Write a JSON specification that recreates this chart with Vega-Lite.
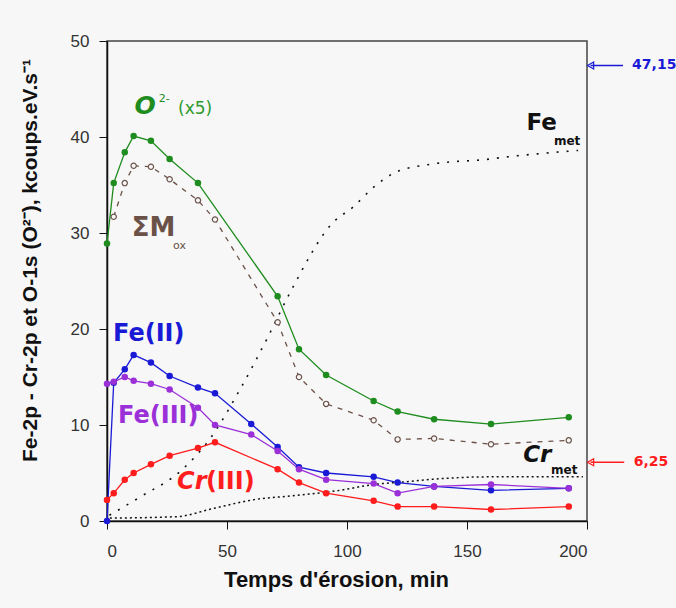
{
  "$schema": "https://vega.github.io/schema/vega-lite/v6.json",
  "width": 480,
  "height": 480,
  "autosize": {"type": "none"},
  "padding": {"left": 107, "top": 41, "right": 89, "bottom": 87},
  "background": "#f7f7f7",
  "config": {"font": "Liberation Sans", "view": {"stroke": "#444", "strokeWidth": 1.5}},
  "datasets": {
    "series": [
      {"s": "O", "t": 0, "v": 28.9}, {"s": "O", "t": 2.8, "v": 35.2}, {"s": "O", "t": 7.4, "v": 38.4}, {"s": "O", "t": 11.1, "v": 40.1}, {"s": "O", "t": 18.3, "v": 39.6}, {"s": "O", "t": 26.1, "v": 37.7}, {"s": "O", "t": 37.9, "v": 35.2}, {"s": "O", "t": 71.1, "v": 23.4}, {"s": "O", "t": 80, "v": 17.9}, {"s": "O", "t": 91.3, "v": 15.2}, {"s": "O", "t": 111.1, "v": 12.5}, {"s": "O", "t": 121.1, "v": 11.4}, {"s": "O", "t": 136.3, "v": 10.6}, {"s": "O", "t": 160, "v": 10.1}, {"s": "O", "t": 192.4, "v": 10.8},
      {"s": "FeII", "t": 0, "v": 0}, {"s": "FeII", "t": 2.8, "v": 14.4}, {"s": "FeII", "t": 7.4, "v": 15.8}, {"s": "FeII", "t": 11.1, "v": 17.3}, {"s": "FeII", "t": 18.3, "v": 16.5}, {"s": "FeII", "t": 26.1, "v": 15.1}, {"s": "FeII", "t": 37.9, "v": 13.9}, {"s": "FeII", "t": 45, "v": 13.3}, {"s": "FeII", "t": 60.1, "v": 10.1}, {"s": "FeII", "t": 71.1, "v": 7.7}, {"s": "FeII", "t": 80, "v": 5.6}, {"s": "FeII", "t": 91.3, "v": 5.0}, {"s": "FeII", "t": 111.1, "v": 4.6}, {"s": "FeII", "t": 121.1, "v": 4.0}, {"s": "FeII", "t": 136.3, "v": 3.6}, {"s": "FeII", "t": 160, "v": 3.2}, {"s": "FeII", "t": 192.4, "v": 3.4},
      {"s": "FeIII", "t": 0, "v": 14.3}, {"s": "FeIII", "t": 2.8, "v": 14.5}, {"s": "FeIII", "t": 7.4, "v": 15.0}, {"s": "FeIII", "t": 11.1, "v": 14.6}, {"s": "FeIII", "t": 18.3, "v": 14.3}, {"s": "FeIII", "t": 26.1, "v": 13.7}, {"s": "FeIII", "t": 37.9, "v": 11.8}, {"s": "FeIII", "t": 45, "v": 10.0}, {"s": "FeIII", "t": 60.1, "v": 9.0}, {"s": "FeIII", "t": 71.1, "v": 7.3}, {"s": "FeIII", "t": 80, "v": 5.4}, {"s": "FeIII", "t": 91.3, "v": 4.3}, {"s": "FeIII", "t": 111.1, "v": 3.9}, {"s": "FeIII", "t": 121.1, "v": 2.9}, {"s": "FeIII", "t": 136.3, "v": 3.6}, {"s": "FeIII", "t": 160, "v": 3.8}, {"s": "FeIII", "t": 192.4, "v": 3.4},
      {"s": "CrIII", "t": 0, "v": 2.2}, {"s": "CrIII", "t": 2.8, "v": 2.9}, {"s": "CrIII", "t": 7.4, "v": 4.3}, {"s": "CrIII", "t": 11.1, "v": 5.0}, {"s": "CrIII", "t": 18.3, "v": 5.9}, {"s": "CrIII", "t": 26.1, "v": 6.8}, {"s": "CrIII", "t": 37.9, "v": 7.6}, {"s": "CrIII", "t": 45, "v": 8.2}, {"s": "CrIII", "t": 71.1, "v": 5.4}, {"s": "CrIII", "t": 80, "v": 4.0}, {"s": "CrIII", "t": 91.3, "v": 2.9}, {"s": "CrIII", "t": 111.1, "v": 2.1}, {"s": "CrIII", "t": 121.1, "v": 1.5}, {"s": "CrIII", "t": 136.3, "v": 1.5}, {"s": "CrIII", "t": 160, "v": 1.2}, {"s": "CrIII", "t": 192.4, "v": 1.5}
    ],
    "mox": [
      {"t": 2.8, "v": 31.7}, {"t": 7.4, "v": 35.2}, {"t": 11.1, "v": 37.0}, {"t": 18.3, "v": 36.9}, {"t": 26.1, "v": 35.6}, {"t": 37.9, "v": 33.4}, {"t": 45, "v": 31.4}, {"t": 71.1, "v": 20.7}, {"t": 80, "v": 15.0}, {"t": 91.3, "v": 12.2}, {"t": 111.1, "v": 10.5}, {"t": 121.1, "v": 8.5}, {"t": 136.3, "v": 8.6}, {"t": 160, "v": 8.0}, {"t": 192.4, "v": 8.4}
    ],
    "femet": [
      {"t": 1, "v": 0.6}, {"t": 13.8, "v": 2.5}, {"t": 31.1, "v": 5.3}, {"t": 43.6, "v": 8.8}, {"t": 55.4, "v": 13.7}, {"t": 66.5, "v": 18.9}, {"t": 76.3, "v": 23.8}, {"t": 94.2, "v": 31.1}, {"t": 102.5, "v": 32.7}, {"t": 110.8, "v": 34.7}, {"t": 120, "v": 36.3}, {"t": 133.2, "v": 37.1}, {"t": 142.9, "v": 37.4}, {"t": 155.4, "v": 37.6}, {"t": 169.2, "v": 38.0}, {"t": 181.7, "v": 38.3}, {"t": 196.3, "v": 38.6}
    ],
    "crmet": [
      {"t": 1.2, "v": 0.3}, {"t": 29, "v": 0.45}, {"t": 44.2, "v": 1.3}, {"t": 60.8, "v": 2.2}, {"t": 80.4, "v": 2.7}, {"t": 97.1, "v": 3.2}, {"t": 111, "v": 3.8}, {"t": 124.9, "v": 4.1}, {"t": 135.8, "v": 4.35}, {"t": 159.6, "v": 4.6}, {"t": 198.3, "v": 4.6}
    ],
    "labels": [
      {"id": "O", "t": 11.5, "v": 43.2, "text": "O"},
      {"id": "Osup", "t": 21.6, "v": 44.0, "text": "2-"},
      {"id": "x5", "t": 29.6, "v": 42.9, "text": "(x5)"},
      {"id": "M", "t": 10.3, "v": 30.5, "text": "ΣM"},
      {"id": "ox", "t": 27.5, "v": 28.6, "text": "ox"},
      {"id": "Fe", "t": 174.8, "v": 41.5, "text": "Fe"},
      {"id": "Femet", "t": 186.2, "v": 39.6, "text": "met"},
      {"id": "Cr", "t": 173.4, "v": 6.9, "text": "Cr"},
      {"id": "Crmet", "t": 185, "v": 5.3, "text": "met"},
      {"id": "FeII", "t": 2.5, "v": 19.5, "text": "Fe(II)"},
      {"id": "FeIII", "t": 4.6, "v": 10.9, "text": "Fe(III)"},
      {"id": "CrIIIa", "t": 29.2, "v": 4.1, "text": "Cr"},
      {"id": "CrIIIb", "t": 41.2, "v": 4.1, "text": "(III)"}
    ],
    "arrows": [
      {"id": "fe", "t0": 201.5, "t1": 215, "tl": 218.8, "v": 47.45, "text": "47,15"},
      {"id": "cr", "t0": 201.5, "t1": 215.5, "tl": 219.5, "v": 6.12, "text": "6,25"}
    ]
  },
  "layer": [
    {
      "data": {"name": "femet"},
      "mark": {"type": "line", "color": "#111", "strokeWidth": 1.6, "strokeDash": [2, 8], "interpolate": "monotone"},
      "encoding": {
        "x": {"field": "t", "type": "quantitative", "scale": {"domain": [0, 200], "nice": false},
          "axis": {"values": [0, 50, 100, 150, 200], "title": "Temps d'érosion, min", "titleFontSize": 22, "titleFontWeight": "bold", "titleColor": "#111", "titleX": 229, "titleY": 58, "titleBaseline": "middle", "titleAlign": "center", "labelFontSize": 17, "labelColor": "#333", "labelPadding": 14, "tickSize": 8, "tickColor": "#111", "domainColor": "#111", "domainWidth": 1.5, "grid": false}},
        "y": {"field": "v", "type": "quantitative", "scale": {"domain": [0, 50], "nice": false},
          "axis": {"values": [0, 10, 20, 30, 40, 50], "title": "Fe-2p - Cr-2p et O-1s (O²⁻), kcoups.eV.s⁻¹", "titleFontSize": 21, "titleFontWeight": "bold", "titleColor": "#111", "titleAngle": -90, "titleX": -77, "titleY": 219, "titleBaseline": "middle", "titleAlign": "center", "labelFontSize": 17, "labelColor": "#333", "labelPadding": 10, "tickSize": 8, "tickColor": "#111", "domainColor": "#111", "domainWidth": 1.5, "grid": false}}
      }
    },
    {
      "data": {"name": "crmet"},
      "mark": {"type": "line", "color": "#111", "strokeWidth": 1.5, "strokeDash": [2, 3], "interpolate": "monotone"},
      "encoding": {"x": {"field": "t", "type": "quantitative"}, "y": {"field": "v", "type": "quantitative"}}
    },
    {
      "data": {"name": "mox"},
      "mark": {"type": "line", "color": "#6b5249", "strokeWidth": 1.3, "strokeDash": [5, 6]},
      "encoding": {"x": {"field": "t", "type": "quantitative"}, "y": {"field": "v", "type": "quantitative"}}
    },
    {
      "data": {"name": "mox"},
      "mark": {"type": "point", "shape": "circle", "size": 28, "stroke": "#6b5249", "fill": "#f7f7f7", "filled": false, "strokeWidth": 1.2, "opacity": 1},
      "encoding": {"x": {"field": "t", "type": "quantitative"}, "y": {"field": "v", "type": "quantitative"}}
    },
    {
      "data": {"name": "series"},
      "mark": {"type": "line", "strokeWidth": 1.3},
      "encoding": {
        "x": {"field": "t", "type": "quantitative"},
        "y": {"field": "v", "type": "quantitative"},
        "color": {"field": "s", "type": "nominal", "scale": {"domain": ["O", "FeII", "FeIII", "CrIII"], "range": ["#1e8c1e", "#1a1ad6", "#9b30d8", "#ff1c1c"]}, "legend": null}
      }
    },
    {
      "data": {"name": "series"},
      "mark": {"type": "circle", "size": 42, "opacity": 1},
      "encoding": {
        "x": {"field": "t", "type": "quantitative"},
        "y": {"field": "v", "type": "quantitative"},
        "color": {"field": "s", "type": "nominal", "scale": {"domain": ["O", "FeII", "FeIII", "CrIII"], "range": ["#1e8c1e", "#1a1ad6", "#9b30d8", "#ff1c1c"]}, "legend": null}
      }
    },
    {
      "data": {"name": "labels"},
      "transform": [{"filter": "datum.id == 'O'"}],
      "mark": {"type": "text", "font": "DejaVu Sans", "fontSize": 25, "fontWeight": "bold", "fontStyle": "italic", "color": "#1e8c1e", "align": "left", "baseline": "middle"},
      "encoding": {"x": {"field": "t", "type": "quantitative"}, "y": {"field": "v", "type": "quantitative"}, "text": {"field": "text"}}
    },
    {
      "data": {"name": "labels"},
      "transform": [{"filter": "datum.id == 'Osup'"}],
      "mark": {"type": "text", "font": "DejaVu Sans", "fontSize": 11, "color": "#1e8c1e", "align": "left", "baseline": "middle"},
      "encoding": {"x": {"field": "t", "type": "quantitative"}, "y": {"field": "v", "type": "quantitative"}, "text": {"field": "text"}}
    },
    {
      "data": {"name": "labels"},
      "transform": [{"filter": "datum.id == 'x5'"}],
      "mark": {"type": "text", "font": "DejaVu Sans", "fontSize": 17, "color": "#2e9a2e", "align": "left", "baseline": "middle"},
      "encoding": {"x": {"field": "t", "type": "quantitative"}, "y": {"field": "v", "type": "quantitative"}, "text": {"field": "text"}}
    },
    {
      "data": {"name": "labels"},
      "transform": [{"filter": "datum.id == 'M'"}],
      "mark": {"type": "text", "font": "DejaVu Sans", "fontSize": 26, "fontWeight": "bold", "color": "#6b5249", "align": "left", "baseline": "middle"},
      "encoding": {"x": {"field": "t", "type": "quantitative"}, "y": {"field": "v", "type": "quantitative"}, "text": {"field": "text"}}
    },
    {
      "data": {"name": "labels"},
      "transform": [{"filter": "datum.id == 'ox'"}],
      "mark": {"type": "text", "font": "DejaVu Sans", "fontSize": 11, "color": "#6b5249", "align": "left", "baseline": "middle"},
      "encoding": {"x": {"field": "t", "type": "quantitative"}, "y": {"field": "v", "type": "quantitative"}, "text": {"field": "text"}}
    },
    {
      "data": {"name": "labels"},
      "transform": [{"filter": "datum.id == 'Fe'"}],
      "mark": {"type": "text", "font": "DejaVu Sans", "fontSize": 23, "fontWeight": "bold", "color": "#111", "align": "left", "baseline": "middle"},
      "encoding": {"x": {"field": "t", "type": "quantitative"}, "y": {"field": "v", "type": "quantitative"}, "text": {"field": "text"}}
    },
    {
      "data": {"name": "labels"},
      "transform": [{"filter": "datum.id == 'Cr'"}],
      "mark": {"type": "text", "font": "DejaVu Sans", "fontSize": 23, "fontWeight": "bold", "fontStyle": "italic", "color": "#111", "align": "left", "baseline": "middle"},
      "encoding": {"x": {"field": "t", "type": "quantitative"}, "y": {"field": "v", "type": "quantitative"}, "text": {"field": "text"}}
    },
    {
      "data": {"name": "labels"},
      "transform": [{"filter": "datum.id == 'Femet' || datum.id == 'Crmet'"}],
      "mark": {"type": "text", "font": "DejaVu Sans", "fontSize": 12, "fontWeight": "bold", "color": "#111", "align": "left", "baseline": "middle"},
      "encoding": {"x": {"field": "t", "type": "quantitative"}, "y": {"field": "v", "type": "quantitative"}, "text": {"field": "text"}}
    },
    {
      "data": {"name": "labels"},
      "transform": [{"filter": "datum.id == 'FeII'"}],
      "mark": {"type": "text", "font": "DejaVu Sans", "fontSize": 24, "fontWeight": "bold", "color": "#1a1ad6", "align": "left", "baseline": "middle"},
      "encoding": {"x": {"field": "t", "type": "quantitative"}, "y": {"field": "v", "type": "quantitative"}, "text": {"field": "text"}}
    },
    {
      "data": {"name": "labels"},
      "transform": [{"filter": "datum.id == 'FeIII'"}],
      "mark": {"type": "text", "font": "DejaVu Sans", "fontSize": 24, "fontWeight": "bold", "color": "#9b30d8", "align": "left", "baseline": "middle"},
      "encoding": {"x": {"field": "t", "type": "quantitative"}, "y": {"field": "v", "type": "quantitative"}, "text": {"field": "text"}}
    },
    {
      "data": {"name": "labels"},
      "transform": [{"filter": "datum.id == 'CrIIIa'"}],
      "mark": {"type": "text", "font": "DejaVu Sans", "fontSize": 24, "fontWeight": "bold", "fontStyle": "italic", "color": "#ff1c1c", "align": "left", "baseline": "middle"},
      "encoding": {"x": {"field": "t", "type": "quantitative"}, "y": {"field": "v", "type": "quantitative"}, "text": {"field": "text"}}
    },
    {
      "data": {"name": "labels"},
      "transform": [{"filter": "datum.id == 'CrIIIb'"}],
      "mark": {"type": "text", "font": "DejaVu Sans", "fontSize": 24, "fontWeight": "bold", "color": "#ff1c1c", "align": "left", "baseline": "middle"},
      "encoding": {"x": {"field": "t", "type": "quantitative"}, "y": {"field": "v", "type": "quantitative"}, "text": {"field": "text"}}
    },
    {
      "data": {"name": "arrows"},
      "transform": [{"filter": "datum.id == 'fe'"}],
      "layer": [
        {"mark": {"type": "rule", "strokeWidth": 1.3, "color": "#1a1ad6"},
         "encoding": {"x": {"field": "t0", "type": "quantitative"}, "x2": {"field": "t1"}, "y": {"field": "v", "type": "quantitative"}}},
        {"mark": {"type": "point", "shape": "triangle-left", "size": 50, "filled": false, "strokeWidth": 1.2, "opacity": 1, "color": "#1a1ad6"},
         "encoding": {"x": {"field": "t0", "type": "quantitative"}, "y": {"field": "v", "type": "quantitative"}}},
        {"mark": {"type": "text", "font": "DejaVu Sans", "fontSize": 14, "fontWeight": "bold", "align": "left", "baseline": "middle", "color": "#1a1ad6"},
         "encoding": {"x": {"field": "tl", "type": "quantitative"}, "y": {"field": "v", "type": "quantitative"}, "text": {"field": "text"}}}
      ]
    },
    {
      "data": {"name": "arrows"},
      "transform": [{"filter": "datum.id == 'cr'"}],
      "layer": [
        {"mark": {"type": "rule", "strokeWidth": 1.3, "color": "#ff1c1c"},
         "encoding": {"x": {"field": "t0", "type": "quantitative"}, "x2": {"field": "t1"}, "y": {"field": "v", "type": "quantitative"}}},
        {"mark": {"type": "point", "shape": "triangle-left", "size": 50, "filled": false, "strokeWidth": 1.2, "opacity": 1, "color": "#ff1c1c"},
         "encoding": {"x": {"field": "t0", "type": "quantitative"}, "y": {"field": "v", "type": "quantitative"}}},
        {"mark": {"type": "text", "font": "DejaVu Sans", "fontSize": 14, "fontWeight": "bold", "align": "left", "baseline": "middle", "color": "#ff1c1c"},
         "encoding": {"x": {"field": "tl", "type": "quantitative"}, "y": {"field": "v", "type": "quantitative"}, "text": {"field": "text"}}}
      ]
    }
  ]
}
